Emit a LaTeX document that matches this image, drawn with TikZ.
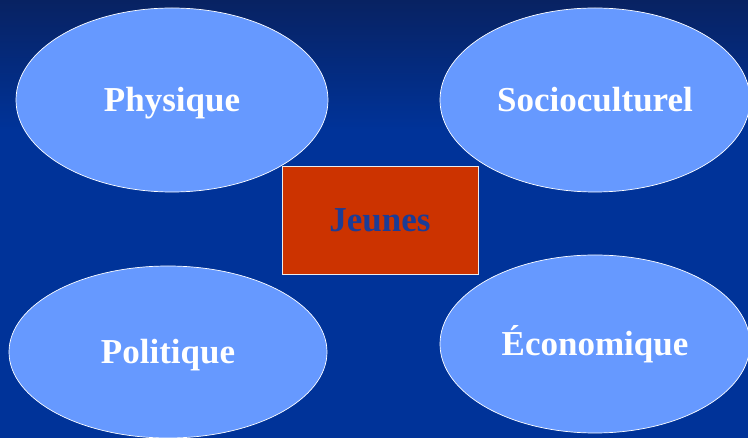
\documentclass[tikz,border=0pt]{standalone}
\usepackage{fontspec}
\setmainfont{Liberation Serif}
\usetikzlibrary{shapes.geometric}

\definecolor{navytop}{RGB}{8,34,98}
\definecolor{slideblue}{RGB}{0,51,153}
\definecolor{bulle}{RGB}{102,153,255}
\definecolor{brique}{RGB}{204,51,0}
\definecolor{encre}{RGB}{28,60,150}

\tikzset{
  bulle/.style={ellipse, fill=bulle, draw=white, line width=0.7pt,
    inner sep=0pt, text=white, text height=25pt, text depth=1pt,
    font=\fontsize{35}{40}\selectfont\bfseries},
  centre/.style={rectangle, fill=brique, draw=white!85!gray, line width=0.8pt,
    minimum width=196pt, minimum height=108pt, inner sep=0pt,
    text height=25pt, text depth=1pt,
    text=encre, font=\fontsize{35}{40}\selectfont\bfseries}
}

\begin{document}
\begin{tikzpicture}[x=1pt,y=-1pt]

\useasboundingbox (0,0) rectangle (748,438);

% fond
\fill[slideblue] (0,0) rectangle (748,438);
\shade[top color=navytop, bottom color=slideblue] (0,0) rectangle (748,130);

\coordinate (P) at (172,100);
\coordinate (S) at (595,100);
\coordinate (J) at (380,220);
\coordinate (Po) at (168,352);
\coordinate (E) at (595,344);

\node[centre] (jeunes) at (J) {Jeunes};

\node[bulle, minimum width=312pt, minimum height=184pt] (physique) at (P) {Physique};
\node[bulle, minimum width=310pt, minimum height=184pt] (socio) at (S) {Socioculturel};
\node[bulle, minimum width=318pt, minimum height=172pt] (politique) at (Po) {Politique};
\node[bulle, minimum width=310pt, minimum height=178pt] (eco) at (E) {Économique};

\end{tikzpicture}
\end{document}
